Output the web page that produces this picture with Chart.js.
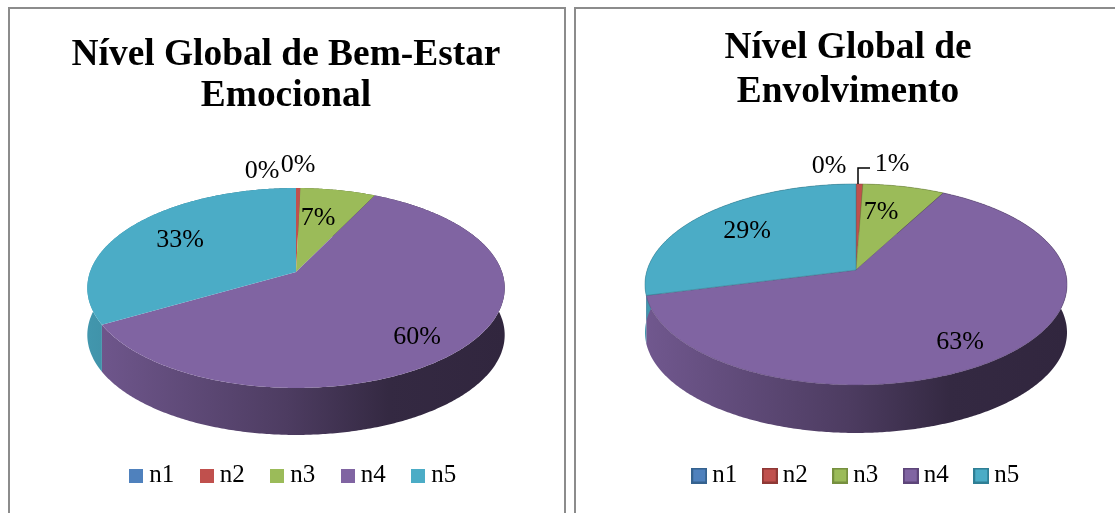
<!DOCTYPE html>
<html><head><meta charset="utf-8">
<style>
html,body{margin:0;padding:0;background:#fff;width:1115px;height:513px;overflow:hidden}
.panel{position:absolute;top:7px;height:506px;box-sizing:border-box;border:2px solid #8c8c8c;border-bottom:none}
canvas{position:absolute;top:0}
</style>
<script src="https://cdn.jsdelivr.net/npm/chart.js@4/dist/chart.umd.js"></script>
</head><body>
<div class="panel" style="left:8px;width:558px"></div>
<div class="panel" style="left:574px;width:541px;border-right:none"></div>
<canvas id="c1" style="left:0"></canvas>
<canvas id="c2" style="left:581px"></canvas>
<script>
const categories = ['n1','n2','n3','n4','n5'];
const bemEstarValues = [0, 0.4, 6.8, 59.5, 33.3];
const envolvimentoValues = [0, 0.6, 7.2, 63.2, 29];
const bemEstarTitle = ['Nível Global de Bem-Estar','Emocional'];
const envolvimentoTitle = ['Nível Global de','Envolvimento'];
const colors = ['#4f81bd','#c0504d','#9bbb59','#8064a2','#4bacc6'];
const borderColors = ['#35628f','#8f3835','#76903f','#5d4579','#2f7f95'];
const FONT = '"Liberation Serif","Times New Roman",serif';

function shade(hex,f){
  const n=parseInt(hex.slice(1),16);
  return `rgb(${Math.round((n>>16&255)*f)},${Math.round((n>>8&255)*f)},${Math.round((n&255)*f)})`;
}
function swatch(fill,stroke,size,bw){
  const c=document.createElement('canvas');c.width=c.height=size;
  const x=c.getContext('2d');x.fillStyle=fill;x.fillRect(0,0,size,size);
  if(bw){x.strokeStyle=stroke;x.lineWidth=bw;x.strokeRect(bw/2,bw/2,size-bw,size-bw);}
  return c;
}
const pie3d = {
  id:'pie3d',
  afterLayout(chart,args,o){
    chart.legend.left+=o.legendShift; chart.legend.right+=o.legendShift;
  },
  beforeDatasetsDraw(chart,args,o){
    const ctx=chart.ctx, meta=chart.getDatasetMeta(0);
    const P=t=>{
      const u=Math.sin(t),v=Math.cos(t),w=1+o.k*v;
      return [o.cx+o.a*u/w, o.cy-o.b*v/w];
    };
    const slices=meta.data.map((el,i)=>({t0:el.startAngle+Math.PI/2,t1:el.endAngle+Math.PI/2,i})).filter(s=>s.t1-s.t0>1e-4);
    const trace=(s,dy,rev)=>{
      const n=Math.max(2,Math.ceil((s.t1-s.t0)/0.01));
      for(let j=0;j<=n;j++){
        const t=rev? s.t1-(s.t1-s.t0)*j/n : s.t0+(s.t1-s.t0)*j/n;
        const p=P(t);
        ctx.lineTo(p[0],p[1]+dy);
      }
    };
    ctx.save();
    const xl=o.cx-o.a*1.02,xr=o.cx+o.a*1.02;
    slices.forEach(s=>{
      const g=ctx.createLinearGradient(xl,0,xr,0),c=colors[s.i];
      g.addColorStop(0,shade(c,.88));g.addColorStop(.48,shade(c,.6));
      g.addColorStop(.72,shade(c,.41));g.addColorStop(1,shade(c,.38));
      ctx.beginPath();trace(s,0,false);trace(s,o.depth,true);ctx.closePath();
      ctx.fillStyle=g;ctx.fill();
    });
    slices.forEach(s=>{
      ctx.beginPath();ctx.moveTo(o.cx,o.cy);trace(s,0,false);ctx.closePath();
      ctx.fillStyle=colors[s.i];ctx.fill();
      if(o.edge){ctx.strokeStyle=shade(colors[s.i],.72);ctx.lineWidth=o.edge;ctx.stroke();}
    });
    ctx.fillStyle='#000';ctx.font='26px '+FONT;ctx.textAlign='center';ctx.textBaseline='middle';
    meta.data.forEach((el,i)=>{
      const v=chart.data.datasets[0].data[i],p=o.labels[i];
      ctx.fillText(Math.round(v)+'%',p[0],p[1]);
    });
    if(o.leader){
      ctx.strokeStyle='#000';ctx.lineWidth=1.5;ctx.beginPath();
      o.leader.forEach((p,j)=>j?ctx.lineTo(p[0],p[1]):ctx.moveTo(p[0],p[1]));ctx.stroke();
    }
    ctx.restore();
    return false;
  }
};
function build(id,w,values,title,geo,swSize,swBorder,titleTop){
  const el=document.getElementById(id);el.width=w;el.height=513;
  const imgs=colors.map((c,i)=>swatch(c,borderColors[i],swSize,swBorder));
  new Chart(el,{
    type:'pie',
    data:{labels:categories,datasets:[{data:values,backgroundColor:colors,borderWidth:0}]},
    plugins:[pie3d],
    options:{
      responsive:false,animation:false,
      layout:{padding:{top:0,bottom:geo.legendBottom,left:0,right:0}},
      plugins:{
        tooltip:{enabled:false},
        title:{display:true,text:title,color:'#000',align:'center',position:'top',
          font:{family:FONT,size:37.4,weight:'bold',lineHeight:geo.titleLH},padding:{top:titleTop,bottom:0}},
        legend:{display:true,position:'bottom',align:'center',
          labels:{usePointStyle:true,pointStyleWidth:1,padding:32,color:'#000',font:{family:FONT,size:25},
            generateLabels:()=>categories.map((t,i)=>({text:t,fillStyle:colors[i],strokeStyle:borderColors[i],lineWidth:0,pointStyle:imgs[i],index:i,datasetIndex:0}))}},
        pie3d:geo
      }
    }
  });
}
build('c1',572,bemEstarValues,bemEstarTitle,{cx:296,cy:272,a:206,b:97.4,k:.16,depth:47,edge:0,legendShift:10,legendBottom:15,titleLH:1.12,
  labels:[[262,171],[298,165],[318,218],[417,337],[180,240]]},14,0,34);
build('c2',534,envolvimentoValues,envolvimentoTitle,{cx:275,cy:270,a:208.8,b:98.4,k:.144,depth:48,edge:.5,legendShift:11,legendBottom:15,titleLH:1.16,
  labels:[[248,166],[311,164],[300,212],[379,342],[166,231]],leader:[[277,184],[277,168],[289,168]]},16,2,27);
</script>
</body></html>
